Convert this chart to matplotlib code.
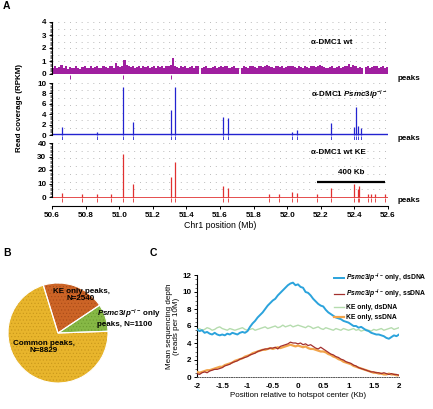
import numpy as np
import matplotlib
matplotlib.use("Agg")
import matplotlib.pyplot as plt

plt.rcParams['font.family'] = ['Liberation Sans', 'DejaVu Sans']
plt.rcParams['font.weight'] = 'bold'
plt.rcParams['mathtext.fontset'] = 'custom'
plt.rcParams['mathtext.rm'] = 'Liberation Sans:bold'
plt.rcParams['mathtext.it'] = 'Liberation Sans:italic:bold'
plt.rcParams['mathtext.bf'] = 'Liberation Sans:bold'
plt.rcParams['hatch.linewidth'] = 0.4

# ---------------- Panel A data ----------------
bin_start = 50.6
bin_width = 0.0125
wt_cov = [0.5,0.6,0.45,0.55,0.7,0.5,0.6,0.4,0.55,0.5,
          0.45,0.6,0.5,0.4,0.55,0.6,0.45,0.5,0.65,0.5,
          0.55,0.6,0.45,0.5,0.6,0.55,0.5,0.65,0.6,0.5,
          0.85,0.6,0.55,0.65,1.1,0.7,0.6,0.55,0.6,0.5,
          0.55,0.6,0.5,0.65,0.55,0.6,0.5,0.55,0.6,0.5,
          0.65,0.55,0.6,0.5,0.6,0.65,0.7,1.2,0.6,0.55,
          0.5,0.6,0.55,0.65,0.5,0.55,0.6,0.5,0.65,0.6,
          0.0,0.5,0.55,0.6,0.5,0.45,0.55,0.6,0.5,0.55,
          0.6,0.55,0.65,0.6,0.5,0.55,0.6,0.5,0.45,0.0,
          0.5,0.6,0.55,0.5,0.65,0.6,0.55,0.5,0.6,0.65,
          0.55,0.6,0.7,0.6,0.55,0.5,0.65,0.6,0.55,0.6,
          0.5,0.55,0.6,0.65,0.6,0.55,0.5,0.6,0.55,0.5,
          0.6,0.55,0.5,0.6,0.65,0.55,0.6,0.7,0.6,0.55,
          0.5,0.45,0.55,0.6,0.5,0.55,0.6,0.5,0.55,0.65,
          0.6,0.8,0.55,0.7,0.6,0.5,0.55,0.45,0.0,0.55,
          0.6,0.5,0.55,0.6,0.65,0.5,0.55,0.6,0.5,0.55]
wt_peaks = [50.71, 51.02, 51.31]

ko_pos = [50.66, 50.87, 51.02, 51.08, 51.31, 51.33, 51.62, 51.65, 52.03, 52.06,
          52.26, 52.40, 52.41, 52.42, 52.44]
ko_val = [1.5, 0.5, 9.2, 2.5, 4.8, 9.2, 3.5, 3.2, 0.6, 0.9,
          2.3, 1.6, 5.4, 1.8, 1.4]

ke_pos = [50.66, 50.78, 50.87, 50.95, 51.02, 51.08, 51.31, 51.33, 51.62, 51.65,
          51.89, 51.95, 52.03, 52.06, 52.18, 52.26, 52.40, 52.42, 52.43, 52.48,
          52.50, 52.52, 52.58]
ke_val = [3, 2, 2, 2, 32, 10, 15, 26, 8, 7,
          2, 2, 4, 3, 2, 7, 10, 6, 8, 2,
          2, 2, 2]

track_labels = [r"α-DMC1 wt", r"α-DMC1 $\it{Psmc3ip}^{-/-}$", r"α-DMC1 wt KE"]
xticks_A = [50.6, 50.8, 51.0, 51.2, 51.4, 51.6, 51.8, 52.0, 52.2, 52.4, 52.6]
scalebar_text = "400 Kb"
scalebar_mb = 0.4

# ---------------- Panel B data ----------------
pie_labels = ["Psmc3ip only", "KE only", "Common"]
pie_counts = [1100, 2540, 8829]

# ---------------- Panel C data ----------------
pos_c = np.round(np.arange(-2, 2.0001, 0.05), 2)
ko_ds = [5.6,5.4,5.5,5.2,5.3,5.1,5.0,5.2,5.0,4.9,
         5.0,4.9,5.1,5.0,5.2,5.1,5.0,5.2,5.3,5.2,
         5.4,5.9,6.3,6.6,7.0,7.3,7.6,8.0,8.4,8.7,
         9.0,9.2,9.6,9.9,10.2,10.5,10.8,11.0,11.1,10.8,
         10.9,10.6,10.5,10.0,9.9,9.6,9.2,8.9,8.6,8.4,
         8.3,7.9,7.6,7.4,7.2,7.0,6.9,6.8,6.6,6.5,
         6.4,6.2,6.0,6.0,5.8,5.9,5.7,5.5,5.4,5.2,
         5.1,5.0,5.0,4.9,4.8,4.6,4.5,4.7,4.9,4.8,
         5.0]
ko_ss = [0.4,0.3,0.5,0.6,0.5,0.7,0.8,0.9,0.9,1.0,
         1.1,1.3,1.4,1.5,1.7,1.8,1.9,2.1,2.2,2.3,
         2.4,2.6,2.7,2.8,3.0,3.1,3.2,3.3,3.3,3.4,
         3.4,3.5,3.3,3.6,3.7,3.8,3.9,4.1,4.0,4.0,
         3.9,4.0,3.8,3.9,3.7,3.8,3.6,3.4,3.3,3.5,
         3.3,3.1,2.9,2.7,2.6,2.4,2.3,2.1,2.0,1.8,
         1.7,1.6,1.4,1.3,1.1,1.0,0.9,0.8,0.7,0.6,
         0.6,0.5,0.5,0.4,0.5,0.4,0.3,0.4,0.3,0.3,
         0.2]
ke_ds = [5.6,5.7,5.5,5.6,5.8,5.7,5.5,5.6,5.8,5.9,
         5.7,5.6,5.5,5.7,5.6,5.5,5.6,5.7,5.8,5.6,
         5.5,5.6,5.7,5.5,5.6,5.7,5.8,5.9,5.7,5.8,
         5.9,6.0,5.8,5.9,6.1,5.9,6.0,6.1,5.9,6.0,
         6.1,6.0,5.9,5.8,6.0,5.9,5.7,5.8,5.9,5.7,
         5.6,5.8,5.7,5.6,5.5,5.7,5.6,5.5,5.7,5.6,
         5.5,5.6,5.7,5.5,5.6,5.4,5.5,5.6,5.5,5.4,
         5.6,5.5,5.6,5.7,5.5,5.6,5.7,5.8,5.6,5.7,
         5.8]
ke_ss = [0.6,0.5,0.6,0.7,0.8,0.8,0.9,1.0,1.1,1.2,
         1.2,1.4,1.5,1.6,1.7,1.9,2.0,2.1,2.2,2.4,
         2.5,2.6,2.8,2.9,3.0,3.1,3.2,3.2,3.3,3.4,
         3.3,3.4,3.5,3.4,3.5,3.6,3.7,3.8,3.7,3.6,
         3.7,3.6,3.5,3.6,3.4,3.3,3.3,3.2,3.1,3.0,
         3.0,2.9,2.7,2.6,2.4,2.3,2.1,2.0,1.8,1.7,
         1.6,1.5,1.3,1.2,1.1,1.0,0.9,0.8,0.7,0.6,
         0.5,0.5,0.4,0.4,0.3,0.3,0.4,0.3,0.3,0.2,
         0.2]
legend_c = [r"$\it{Psmc3ip}^{-/-}$ only, dsDNA", r"$\it{Psmc3ip}^{-/-}$ only, ssDNA",
            "KE only, dsDNA", "KE only, ssDNA"]

# ---------------- Figure ----------------
W, H = 433, 409
fig = plt.figure(figsize=(W/100, H/100), dpi=100)

def ax_px(x0, y0, x1, y1):
    return fig.add_axes([x0/W, 1-y1/H, (x1-x0)/W, (y1-y0)/H])

FS = 5.8
grid_kw = dict(color='#bbbbbb', lw=0.7, ls=(0, (1, 5)))

tracks = [
    dict(y0=20, y1=80, top=4, p0=74, ptop=22, ticks=[0,1,2,3,4], minor=0.1, nrows=8),
    dict(y0=81, y1=140, top=10, p0=135, ptop=83, ticks=[0,2,4,6,8,10], minor=0.25, nrows=7),
    dict(y0=141, y1=206, top=40, p0=197, ptop=143, ticks=[0,10,20,30,40], minor=1, nrows=7),
]
axes_A = []
for t in tracks:
    ax = ax_px(52, t['y0'], 388, t['y1'])
    s = (t['p0'] - t['ptop']) / t['top']
    ax.set_ylim(-(t['y1'] - t['p0'])/s, t['top'] + (t['ptop'] - t['y0'])/s)
    ax.set_xlim(50.6, 52.6)
    for sp in ['top', 'right', 'bottom']:
        ax.spines[sp].set_visible(False)
    ax.spines['left'].set_bounds(0, t['top'])
    ax.spines['left'].set_linewidth(0.8)
    ax.set_yticks(t['ticks'])
    ax.set_yticks(np.arange(0, t['top'] + 1e-9, t['minor']), minor=True)
    ax.tick_params(axis='y', labelsize=FS, length=2.5, width=0.7, pad=1.5)
    ax.tick_params(axis='y', which='minor', length=1.5, width=0.4)
    for gy in np.linspace(0, t['top'], t['nrows'] + 1)[1:]:
        ax.axhline(gy, **grid_kw, zorder=0)
    axes_A.append(ax)

ax1, ax2, ax3 = axes_A
edges = bin_start + bin_width * np.arange(len(wt_cov) + 1)
ax1.stairs(wt_cov, edges, fill=True, color='#a01fa0', baseline=0, lw=0)
ax1.vlines(wt_peaks, -0.4, -0.1, color='#a01fa0', lw=0.7)
ax2.axhline(0.1, color='#2323d0', lw=1.0, zorder=2)
ax2.vlines(ko_pos, 0, ko_val, color='#2323d0', lw=0.9)
ax2.vlines(ko_pos, -0.9, -0.2, color='#2323d0', lw=0.6)
ax3.axhline(0.2, color='#e03030', lw=0.6, zorder=2)
ax3.vlines(ke_pos, 0, ke_val, color='#e03030', lw=0.9)
ax3.vlines(ke_pos, -3.5, -0.8, color='#e03030', lw=0.6)

ax1.set_xticks([]); ax2.set_xticks([])
ax3.spines['bottom'].set_visible(True)
ax3.spines['bottom'].set_linewidth(0.8)
ax3.set_xticks(xticks_A)
ax3.set_xticklabels([f"{v:.1f}" for v in xticks_A])
ax3.tick_params(axis='x', labelsize=FS, length=2.5, width=0.7, pad=1.5)
ax3.set_xlabel("Chr1 position (Mb)", fontsize=6.3, labelpad=2)

lab_x = 52.14
ax1.text(lab_x, 2.4, track_labels[0], fontsize=FS, va='center', ha='left')
ax2.text(lab_x, 7.7, track_labels[1], fontsize=FS, va='center', ha='left')
ax3.text(lab_x, 32.6, track_labels[2], fontsize=FS, va='center', ha='left')

sb_end = 52.58
ax3.plot([sb_end - scalebar_mb, sb_end], [11, 11], color='black', lw=1.6, solid_capstyle='butt')
ax3.text(sb_end - scalebar_mb/2, 17.8, scalebar_text, fontsize=FS, ha='center', va='center')

for yp in [79, 139, 200]:
    fig.text(398/W, 1-yp/H, "peaks", fontsize=FS, ha='left', va='center')

fig.text(20/W, 1-108/H, "Read coverage (RPKM)", fontsize=FS, rotation=90,
         ha='center', va='center')

fig.text(3/W, 1-6/H, "A", fontsize=7.5, fontweight='bold', ha='left', va='center')
fig.text(3/W, 1-253/H, "B", fontsize=7.5, fontweight='bold', ha='left', va='center')
fig.text(150/W, 1-253/H, "C", fontsize=7.5, fontweight='bold', ha='left', va='center')

# ---------------- Panel B ----------------
cx, cy, r = 58, 333, 51
axp = ax_px(cx - r, cy - r, cx + r, cy + r)
pie_colors = ['#86b845', '#cc6426', '#e8b52c']
dot_colors = ['#6a9a30', '#a84a18', '#c8961a']
axp.pie(pie_counts, colors=pie_colors, startangle=2, counterclock=True,
        wedgeprops=dict(edgecolor='none', linewidth=0))
hatch_w, _ = axp.pie(pie_counts, colors=['none'] * 3, startangle=2, counterclock=True,
                     wedgeprops=dict(linewidth=0))
for w, dc in zip(hatch_w, dot_colors):
    w.set_hatch('.....')
    w.set_edgecolor(dc)
    w.set_linewidth(0)
sep_w, _ = axp.pie(pie_counts, colors=['none'] * 3, startangle=2, counterclock=True,
                   wedgeprops=dict(edgecolor='white', linewidth=0.8))
axp.set_xlim(-1.02, 1.02); axp.set_ylim(-1.02, 1.02)
axp.set_aspect('auto')
axp.axis('off')
fig.text(81/W, 1-295/H, "KE only peaks,\nN=2540", fontsize=FS, ha='center', va='center',
         linespacing=1.0)
fig.text(97/W, 1-318/H, r"$\it{Psmc3ip}^{-/-}$ only" + "\npeaks, N=1100", fontsize=FS,
         ha='left', va='center', linespacing=1.0)
fig.text(44/W, 1-347/H, "Common peaks,\nN=8829", fontsize=FS, ha='center', va='center',
         linespacing=1.0)

# ---------------- Panel C ----------------
axc = ax_px(197, 275, 399, 377)
l_keds, = axc.plot(pos_c, ke_ds, color='#b5dcae', lw=1.0, zorder=2)
l_kods, = axc.plot(pos_c, ko_ds, color='#2ba3dc', lw=1.4, zorder=3)
l_kess, = axc.plot(pos_c, ke_ss, color='#f2a44a', lw=1.6, zorder=3)
l_koss, = axc.plot(pos_c, ko_ss, color='#a3302e', lw=0.9, zorder=4)
axc.set_xlim(-2, 2)
axc.set_ylim(0, 12)
axc.set_xticks([-2, -1.5, -1, -0.5, 0, 0.5, 1, 1.5, 2])
axc.set_xticklabels(["-2", "-1.5", "-1", "-0.5", "0", "0.5", "1", "1.5", "2"])
axc.set_yticks([0, 2, 4, 6, 8, 10, 12])
axc.set_yticks(np.arange(0, 12.01, 0.5), minor=True)
for sp in ['top', 'right']:
    axc.spines[sp].set_visible(False)
axc.spines['bottom'].set_linestyle((0, (1, 1.5)))
axc.spines['bottom'].set_color('#555555')
axc.spines['bottom'].set_linewidth(0.7)
axc.spines['left'].set_linewidth(0.8)
axc.tick_params(axis='both', labelsize=FS, length=2.5, width=0.7, pad=1.5)
axc.tick_params(axis='y', which='minor', length=1.2, width=0.4)
axc.tick_params(axis='x', length=0, pad=4)
axc.set_xlabel("Position relative to hotspot center (Kb)", fontsize=FS, labelpad=2)
axc.set_ylabel("Mean sequencing depth\n(reads per 10M)", fontsize=FS, labelpad=2,
               linespacing=1.0)
leg = axc.legend([l_kods, l_koss, l_keds, l_kess], legend_c,
                 loc='upper left', bbox_to_anchor=(0.665, 1.06), frameon=False,
                 fontsize=4.9, handlelength=1.4, handletextpad=0.3, labelspacing=0.45,
                 borderaxespad=0)

fig.savefig("out.png", dpi=100)
